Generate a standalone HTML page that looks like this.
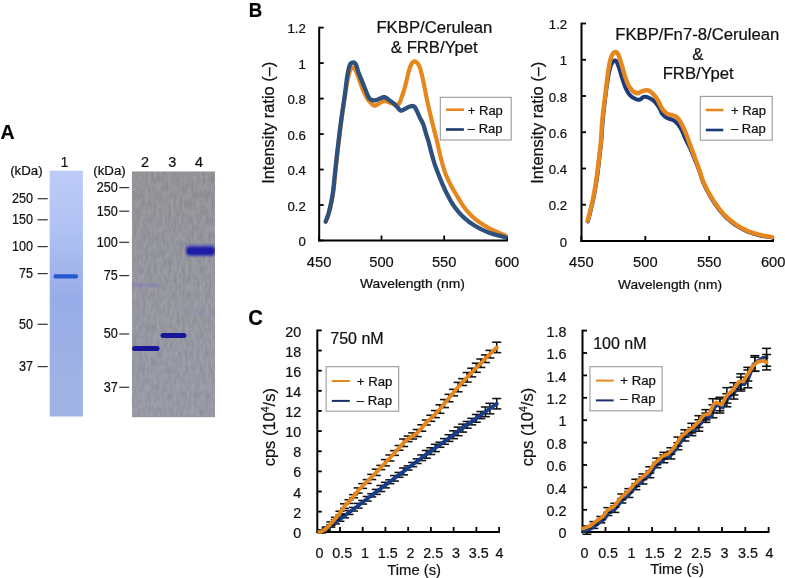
<!DOCTYPE html>
<html><head><meta charset="utf-8"><style>
html,body{margin:0;padding:0;background:#fff;}
svg{display:block;will-change:transform;font-family:"Liberation Sans", sans-serif;}
text{stroke:#111;stroke-width:0.22px;}
</style></head><body>
<svg width="785" height="578" viewBox="0 0 785 578">
<rect width="785" height="578" fill="#fff"/>
<defs>
<linearGradient id="g1" x1="0" y1="0" x2="0" y2="1"><stop offset="0" stop-color="rgb(190,203,248)"/><stop offset="0.25" stop-color="rgb(175,193,242)"/><stop offset="0.52" stop-color="rgb(152,172,232)"/><stop offset="0.86" stop-color="rgb(158,178,228)"/><stop offset="1" stop-color="rgb(160,178,228)"/></linearGradient>
<linearGradient id="g2" x1="0" y1="0" x2="0" y2="1"><stop offset="0" stop-color="rgb(148,148,153)"/><stop offset="0.5" stop-color="rgb(151,152,161)"/><stop offset="1" stop-color="rgb(152,155,167)"/></linearGradient>
<filter id="tex" x="0" y="0" width="100%" height="100%" color-interpolation-filters="sRGB"><feTurbulence type="fractalNoise" baseFrequency="0.35 0.12" numOctaves="2" seed="11" result="n"/><feColorMatrix in="n" type="matrix" values="0 0 0 0 0  0 0 0 0 0  0 0 0 0 0  0 0 0 -2.2 1.25"/></filter>
<filter id="tex2" x="0" y="0" width="100%" height="100%" color-interpolation-filters="sRGB"><feTurbulence type="fractalNoise" baseFrequency="0.35 0.12" numOctaves="2" seed="11" result="n"/><feColorMatrix in="n" type="matrix" values="0 0 0 0 1  0 0 0 0 1  0 0 0 0 1  0 0 0 2.2 -1.0"/></filter>
<filter id="bl" x="-20%" y="-100%" width="140%" height="300%"><feGaussianBlur stdDeviation="0.7"/></filter>
<filter id="bl3" x="-20%" y="-100%" width="140%" height="300%"><feGaussianBlur stdDeviation="1.0"/></filter>
<filter id="bl2" x="-20%" y="-100%" width="140%" height="300%"><feGaussianBlur stdDeviation="1.2"/></filter>
<clipPath id="cg2"><rect x="131.8" y="171.3" width="83.2" height="246.1"/></clipPath>
<clipPath id="cg1"><rect x="49.7" y="170.7" width="33.2" height="245.8"/></clipPath>
</defs>
<text transform="translate(0.4,139.3) scale(0.985,1)" font-size="19.8" font-weight="bold" fill="#000">A</text>
<rect x="49.7" y="170.7" width="33.2" height="245.8" fill="url(#g1)"/>
<rect x="53.4" y="274.2" width="24.7" height="4.3" rx="2" fill="rgb(40,88,208)" filter="url(#bl)"/>
<text transform="translate(64.50,166.90) scale(0.93,1)" font-size="14.6" text-anchor="middle" fill="#111">1</text>
<text x="10.20" y="174.50" font-size="13.3" text-anchor="start" font-weight="normal" fill="#111" >(kDa)</text>
<text transform="translate(33.10,203.10) scale(0.88,1)" font-size="14.3" text-anchor="end" fill="#111">250</text>
<line x1="37.60" y1="198.70" x2="47.70" y2="198.70" stroke="#333" stroke-width="1.2" />
<text transform="translate(33.10,224.20) scale(0.88,1)" font-size="14.3" text-anchor="end" fill="#111">150</text>
<line x1="37.60" y1="219.80" x2="47.70" y2="219.80" stroke="#333" stroke-width="1.2" />
<text transform="translate(33.10,251.00) scale(0.88,1)" font-size="14.3" text-anchor="end" fill="#111">100</text>
<line x1="37.60" y1="246.60" x2="47.70" y2="246.60" stroke="#333" stroke-width="1.2" />
<text transform="translate(33.10,278.00) scale(0.88,1)" font-size="14.3" text-anchor="end" fill="#111">75</text>
<line x1="37.60" y1="273.60" x2="47.70" y2="273.60" stroke="#333" stroke-width="1.2" />
<text transform="translate(33.10,328.70) scale(0.88,1)" font-size="14.3" text-anchor="end" fill="#111">50</text>
<line x1="37.60" y1="324.30" x2="47.70" y2="324.30" stroke="#333" stroke-width="1.2" />
<text transform="translate(33.10,371.00) scale(0.88,1)" font-size="14.3" text-anchor="end" fill="#111">37</text>
<line x1="37.60" y1="366.60" x2="47.70" y2="366.60" stroke="#333" stroke-width="1.2" />
<g clip-path="url(#cg2)">
<rect x="131.8" y="171.3" width="83.2" height="246.1" fill="url(#g2)"/>
<rect x="131.8" y="171.3" width="83.2" height="246.1" fill="#000" filter="url(#tex)" opacity="0.08"/>
<rect x="131.8" y="171.3" width="83.2" height="246.1" fill="#fff" filter="url(#tex2)" opacity="0.08"/>
<rect x="132" y="283.6" width="27" height="3.2" fill="rgb(135,130,180)" filter="url(#bl2)" opacity="0.9"/>
<rect x="190" y="312.5" width="22" height="3" fill="rgb(150,152,185)" filter="url(#bl2)" opacity="0.5"/>
<rect x="132.1" y="346.0" width="27.5" height="5.0" rx="2.5" fill="rgb(22,22,150)" filter="url(#bl)"/>
<rect x="160.5" y="333.0" width="25.9" height="5.0" rx="2.5" fill="rgb(22,22,150)" filter="url(#bl)"/>
<rect x="186.0" y="244.0" width="29.0" height="12.5" rx="4" fill="rgb(90,90,190)" filter="url(#bl2)" opacity="0.5"/>
<rect x="186.4" y="246.8" width="28.6" height="8.4" rx="3.5" fill="rgb(28,28,168)" filter="url(#bl3)"/>
</g>
<text transform="translate(145.00,166.70) scale(0.96,1)" font-size="15.0" text-anchor="middle" fill="#111">2</text>
<text transform="translate(172.30,166.70) scale(0.96,1)" font-size="15.0" text-anchor="middle" fill="#111">3</text>
<text transform="translate(199.10,166.70) scale(0.96,1)" font-size="15.0" text-anchor="middle" fill="#111">4</text>
<text x="93.30" y="174.50" font-size="13.3" text-anchor="start" font-weight="normal" fill="#111" >(kDa)</text>
<text transform="translate(117.80,192.00) scale(0.88,1)" font-size="14.3" text-anchor="end" fill="#111">250</text>
<line x1="119.30" y1="187.60" x2="129.20" y2="187.60" stroke="#333" stroke-width="1.2" />
<text transform="translate(117.80,215.60) scale(0.88,1)" font-size="14.3" text-anchor="end" fill="#111">150</text>
<line x1="119.30" y1="211.20" x2="129.20" y2="211.20" stroke="#333" stroke-width="1.2" />
<text transform="translate(117.80,246.70) scale(0.88,1)" font-size="14.3" text-anchor="end" fill="#111">100</text>
<line x1="119.30" y1="242.30" x2="129.20" y2="242.30" stroke="#333" stroke-width="1.2" />
<text transform="translate(117.80,280.00) scale(0.88,1)" font-size="14.3" text-anchor="end" fill="#111">75</text>
<line x1="119.30" y1="275.60" x2="129.20" y2="275.60" stroke="#333" stroke-width="1.2" />
<text transform="translate(117.80,338.40) scale(0.88,1)" font-size="14.3" text-anchor="end" fill="#111">50</text>
<line x1="119.30" y1="334.00" x2="129.20" y2="334.00" stroke="#333" stroke-width="1.2" />
<text transform="translate(117.80,391.70) scale(0.88,1)" font-size="14.3" text-anchor="end" fill="#111">37</text>
<line x1="119.30" y1="387.30" x2="129.20" y2="387.30" stroke="#333" stroke-width="1.2" />
<text transform="translate(248.7,16.9) scale(0.92,1)" font-size="20.3" font-weight="bold" fill="#000">B</text>
<text transform="translate(248.3,325.4) scale(0.93,1)" font-size="21.8" font-weight="bold" fill="#000">C</text>
<line x1="319.20" y1="26.80" x2="319.20" y2="241.30" stroke="#000" stroke-width="2" />
<line x1="319.20" y1="240.50" x2="323.70" y2="240.50" stroke="#000" stroke-width="1.8" />
<text x="305.80" y="246.00" font-size="13.2" text-anchor="end" font-weight="normal" fill="#111" >0</text>
<line x1="319.20" y1="205.02" x2="323.70" y2="205.02" stroke="#000" stroke-width="1.8" />
<text x="305.80" y="210.52" font-size="13.2" text-anchor="end" font-weight="normal" fill="#111" >0.2</text>
<line x1="319.20" y1="169.54" x2="323.70" y2="169.54" stroke="#000" stroke-width="1.8" />
<text x="305.80" y="175.04" font-size="13.2" text-anchor="end" font-weight="normal" fill="#111" >0.4</text>
<line x1="319.20" y1="134.06" x2="323.70" y2="134.06" stroke="#000" stroke-width="1.8" />
<text x="305.80" y="139.56" font-size="13.2" text-anchor="end" font-weight="normal" fill="#111" >0.6</text>
<line x1="319.20" y1="98.58" x2="323.70" y2="98.58" stroke="#000" stroke-width="1.8" />
<text x="305.80" y="104.08" font-size="13.2" text-anchor="end" font-weight="normal" fill="#111" >0.8</text>
<line x1="319.20" y1="63.10" x2="323.70" y2="63.10" stroke="#000" stroke-width="1.8" />
<text x="305.80" y="68.60" font-size="13.2" text-anchor="end" font-weight="normal" fill="#111" >1</text>
<line x1="319.20" y1="27.62" x2="323.70" y2="27.62" stroke="#000" stroke-width="1.8" />
<text x="305.80" y="33.12" font-size="13.2" text-anchor="end" font-weight="normal" fill="#111" >1.2</text>
<line x1="318.20" y1="240.50" x2="507.80" y2="240.50" stroke="#000" stroke-width="2" />
<line x1="319.10" y1="240.50" x2="319.10" y2="235.50" stroke="#000" stroke-width="1.8" />
<text transform="translate(319.10,266.60) scale(0.95,1)" font-size="15.5" text-anchor="middle" fill="#111">450</text>
<line x1="381.50" y1="240.50" x2="381.50" y2="235.50" stroke="#000" stroke-width="1.8" />
<text transform="translate(381.50,266.60) scale(0.95,1)" font-size="15.5" text-anchor="middle" fill="#111">500</text>
<line x1="444.20" y1="240.50" x2="444.20" y2="235.50" stroke="#000" stroke-width="1.8" />
<text transform="translate(444.20,266.60) scale(0.95,1)" font-size="15.5" text-anchor="middle" fill="#111">550</text>
<line x1="507.00" y1="240.50" x2="507.00" y2="235.50" stroke="#000" stroke-width="1.8" />
<text transform="translate(507.00,266.60) scale(0.95,1)" font-size="15.5" text-anchor="middle" fill="#111">600</text>
<text x="412.50" y="288.40" font-size="12.4" text-anchor="middle" font-weight="normal" fill="#111" textLength="105" lengthAdjust="spacingAndGlyphs">Wavelength (nm)</text>
<text transform="translate(274.0,122.8) rotate(-90)" font-size="16.4" text-anchor="middle" fill="#111">Intensity ratio (–)</text>
<text x="434.40" y="33.00" font-size="16.7" text-anchor="middle" font-weight="normal" fill="#111" >FKBP/Cerulean</text>
<text x="434.30" y="53.20" font-size="16.7" text-anchor="middle" font-weight="normal" fill="#111" >&amp; FRB/Ypet</text>
<polyline points="325.80,221.80 326.30,220.54 327.01,218.74 327.80,216.67 328.50,214.60 329.10,212.55 329.66,210.39 330.20,208.19 330.70,206.00 331.17,203.83 331.61,201.65 332.01,199.47 332.40,197.30 332.76,195.15 333.10,193.00 333.41,190.85 333.70,188.70 333.95,186.56 334.17,184.44 334.38,182.27 334.60,180.00 334.84,177.59 335.09,175.08 335.34,172.53 335.60,170.00 335.87,167.50 336.14,165.00 336.42,162.50 336.70,160.00 336.97,157.50 337.24,155.00 337.52,152.50 337.80,150.00 338.09,147.50 338.39,145.00 338.70,142.50 339.00,140.00 339.30,137.50 339.59,135.00 339.89,132.50 340.20,130.00 340.52,127.50 340.84,125.00 341.17,122.50 341.50,120.00 341.84,117.50 342.19,115.00 342.54,112.50 342.90,110.00 343.27,107.52 343.64,105.06 344.02,102.57 344.40,100.00 344.78,97.32 345.17,94.56 345.57,91.77 346.00,89.00 346.46,86.19 346.94,83.34 347.46,80.57 348.00,78.00 348.60,75.55 349.25,73.20 349.90,71.12 350.50,69.50 351.01,68.39 351.47,67.70 351.94,67.36 352.50,67.30 353.18,67.51 353.94,68.03 354.73,68.86 355.50,70.00 356.22,71.47 356.91,73.26 357.65,75.35 358.50,77.70 359.50,80.50 360.62,83.69 361.77,86.92 362.90,89.80 363.98,92.28 365.06,94.53 366.13,96.57 367.20,98.40 368.29,100.01 369.40,101.41 370.48,102.60 371.50,103.60 372.39,104.46 373.19,105.16 374.02,105.60 375.00,105.70 376.18,105.30 377.50,104.49 378.87,103.56 380.20,102.80 381.49,102.19 382.78,101.61 384.06,101.17 385.30,101.00 386.48,101.20 387.62,101.68 388.77,102.27 390.00,102.80 391.39,103.29 392.88,103.82 394.33,104.26 395.60,104.50 396.60,104.64 397.43,104.69 398.19,104.43 399.00,103.60 399.87,102.07 400.74,100.00 401.62,97.58 402.50,95.00 403.38,92.26 404.26,89.28 405.13,86.13 406.00,82.90 406.85,79.39 407.70,75.62 408.55,72.03 409.40,69.00 410.27,66.62 411.15,64.68 412.03,63.18 412.90,62.10 413.75,61.49 414.60,61.34 415.45,61.57 416.30,62.10 417.17,62.83 418.04,63.84 418.92,65.27 419.80,67.30 420.68,70.06 421.56,73.44 422.43,77.20 423.30,81.10 424.15,85.22 425.00,89.64 425.85,94.11 426.70,98.40 427.57,102.46 428.45,106.41 429.33,110.26 430.20,114.00 431.05,117.60 431.90,121.06 432.75,124.47 433.60,127.90 434.48,131.38 435.38,134.87 436.26,138.32 437.10,141.70 437.83,144.89 438.49,147.94 439.18,151.07 440.00,154.50 440.99,158.43 442.09,162.71 443.27,166.98 444.50,170.90 445.76,174.33 447.07,177.48 448.47,180.50 450.00,183.60 451.68,186.80 453.48,190.00 455.37,193.20 457.30,196.40 459.22,199.62 461.18,202.87 463.24,206.05 465.50,209.10 467.95,211.99 470.56,214.78 473.36,217.44 476.40,220.00 479.77,222.46 483.42,224.83 487.18,227.06 490.90,229.10 494.89,231.04 499.11,232.87 502.87,234.41 505.50,235.50" fill="none" stroke="#e6871e" stroke-width="4.2" stroke-linejoin="round" stroke-linecap="round" />
<polyline points="325.60,221.50 326.08,220.30 326.76,218.59 327.52,216.61 328.20,214.60 328.79,212.57 329.36,210.41 329.89,208.20 330.40,206.00 330.87,203.83 331.31,201.65 331.71,199.47 332.10,197.30 332.46,195.15 332.80,193.00 333.11,190.85 333.40,188.70 333.65,186.56 333.87,184.44 334.08,182.27 334.30,180.00 334.54,177.59 334.79,175.08 335.04,172.53 335.30,170.00 335.57,167.50 335.84,165.00 336.12,162.50 336.40,160.00 336.67,157.50 336.94,155.00 337.22,152.50 337.50,150.00 337.79,147.50 338.09,145.00 338.40,142.50 338.70,140.00 339.00,137.50 339.29,135.00 339.59,132.50 339.90,130.00 340.22,127.50 340.54,125.00 340.87,122.50 341.20,120.00 341.54,117.50 341.89,115.00 342.24,112.50 342.60,110.00 342.97,107.52 343.34,105.06 343.72,102.57 344.10,100.00 344.47,97.37 344.84,94.69 345.21,91.91 345.60,89.00 345.99,85.85 346.38,82.52 346.81,79.18 347.30,76.00 347.87,72.84 348.49,69.68 349.17,66.85 349.90,64.70 350.73,63.41 351.65,62.76 352.57,62.53 353.40,62.50 354.12,62.61 354.76,62.98 355.38,63.65 356.00,64.70 356.61,66.24 357.19,68.20 357.81,70.36 358.50,72.50 359.30,74.59 360.19,76.74 361.10,78.92 362.00,81.10 362.88,83.29 363.76,85.50 364.63,87.69 365.50,89.80 366.35,91.94 367.20,94.08 368.05,96.04 368.90,97.60 369.77,98.68 370.65,99.39 371.53,99.85 372.40,100.20 373.23,100.42 374.04,100.48 374.88,100.39 375.80,100.20 376.83,99.86 377.94,99.38 379.08,98.86 380.20,98.40 381.28,97.95 382.36,97.47 383.43,97.13 384.50,97.10 385.56,97.47 386.61,98.13 387.68,98.95 388.80,99.80 390.04,100.68 391.35,101.65 392.64,102.65 393.80,103.60 394.78,104.50 395.64,105.37 396.46,106.23 397.30,107.10 398.16,108.10 399.00,109.18 399.87,110.10 400.80,110.60 401.82,110.53 402.90,110.05 404.01,109.40 405.10,108.80 406.18,108.26 407.25,107.67 408.32,107.12 409.40,106.70 410.51,106.37 411.66,106.10 412.74,106.01 413.70,106.20 414.45,106.69 415.05,107.43 415.63,108.43 416.30,109.70 417.11,111.37 417.99,113.39 418.90,115.51 419.80,117.50 420.70,119.25 421.61,120.90 422.50,122.58 423.30,124.40 423.99,126.43 424.60,128.60 425.18,130.82 425.80,133.00 426.47,135.11 427.16,137.20 427.84,139.31 428.50,141.50 429.09,143.71 429.64,145.94 430.22,148.30 430.90,150.90 431.67,153.80 432.51,156.93 433.44,160.21 434.50,163.60 435.72,167.12 437.07,170.79 438.52,174.51 440.00,178.20 441.52,181.87 443.09,185.56 444.72,189.20 446.40,192.70 448.10,196.06 449.83,199.32 451.65,202.47 453.60,205.50 455.68,208.40 457.86,211.18 460.19,213.85 462.70,216.40 465.39,218.85 468.26,221.18 471.29,223.40 474.50,225.50 477.91,227.49 481.51,229.38 485.26,231.13 489.10,232.70 493.46,234.14 498.21,235.45 502.51,236.53 505.50,237.30" fill="none" stroke="#2d507d" stroke-width="4.3" stroke-linejoin="round" stroke-linecap="round" />
<rect x="440.3" y="97.3" width="70.89999999999998" height="42.7" fill="#fff" stroke="#9a9a9a" stroke-width="1.1"/>
<line x1="446.00" y1="109.70" x2="463.90" y2="109.70" stroke="#e6871e" stroke-width="2.6" />
<line x1="446.00" y1="129.50" x2="463.90" y2="129.50" stroke="#1c3a6e" stroke-width="2.6" />
<text x="467.80" y="115.10" font-size="13" text-anchor="start" font-weight="normal" fill="#111" >+ Rap</text>
<text x="467.80" y="133.30" font-size="13" text-anchor="start" font-weight="normal" fill="#111" >– Rap</text>
<line x1="581.50" y1="22.70" x2="581.50" y2="241.80" stroke="#000" stroke-width="2" />
<line x1="581.50" y1="241.00" x2="586.00" y2="241.00" stroke="#000" stroke-width="1.8" />
<text x="567.20" y="246.50" font-size="13.2" text-anchor="end" font-weight="normal" fill="#111" >0</text>
<line x1="581.50" y1="204.75" x2="586.00" y2="204.75" stroke="#000" stroke-width="1.8" />
<text x="567.20" y="210.25" font-size="13.2" text-anchor="end" font-weight="normal" fill="#111" >0.2</text>
<line x1="581.50" y1="168.50" x2="586.00" y2="168.50" stroke="#000" stroke-width="1.8" />
<text x="567.20" y="174.00" font-size="13.2" text-anchor="end" font-weight="normal" fill="#111" >0.4</text>
<line x1="581.50" y1="132.25" x2="586.00" y2="132.25" stroke="#000" stroke-width="1.8" />
<text x="567.20" y="137.75" font-size="13.2" text-anchor="end" font-weight="normal" fill="#111" >0.6</text>
<line x1="581.50" y1="96.00" x2="586.00" y2="96.00" stroke="#000" stroke-width="1.8" />
<text x="567.20" y="101.50" font-size="13.2" text-anchor="end" font-weight="normal" fill="#111" >0.8</text>
<line x1="581.50" y1="59.75" x2="586.00" y2="59.75" stroke="#000" stroke-width="1.8" />
<text x="567.20" y="65.25" font-size="13.2" text-anchor="end" font-weight="normal" fill="#111" >1</text>
<line x1="581.50" y1="23.50" x2="586.00" y2="23.50" stroke="#000" stroke-width="1.8" />
<text x="567.20" y="29.00" font-size="13.2" text-anchor="end" font-weight="normal" fill="#111" >1.2</text>
<line x1="580.50" y1="241.00" x2="774.00" y2="241.00" stroke="#000" stroke-width="2" />
<line x1="581.30" y1="241.00" x2="581.30" y2="236.00" stroke="#000" stroke-width="1.8" />
<text transform="translate(581.30,266.70) scale(0.95,1)" font-size="15.5" text-anchor="middle" fill="#111">450</text>
<line x1="645.30" y1="241.00" x2="645.30" y2="236.00" stroke="#000" stroke-width="1.8" />
<text transform="translate(645.30,266.70) scale(0.95,1)" font-size="15.5" text-anchor="middle" fill="#111">500</text>
<line x1="709.20" y1="241.00" x2="709.20" y2="236.00" stroke="#000" stroke-width="1.8" />
<text transform="translate(709.20,266.70) scale(0.95,1)" font-size="15.5" text-anchor="middle" fill="#111">550</text>
<line x1="773.20" y1="241.00" x2="773.20" y2="236.00" stroke="#000" stroke-width="1.8" />
<text transform="translate(773.20,266.70) scale(0.95,1)" font-size="15.5" text-anchor="middle" fill="#111">600</text>
<text x="670.00" y="288.60" font-size="12.4" text-anchor="middle" font-weight="normal" fill="#111" textLength="104" lengthAdjust="spacingAndGlyphs">Wavelength (nm)</text>
<text transform="translate(543.3,122.8) rotate(-90)" font-size="16.4" text-anchor="middle" fill="#111">Intensity ratio (–)</text>
<text x="697.30" y="39.80" font-size="16.7" text-anchor="middle" font-weight="normal" fill="#111" >FKBP/Fn7-8/Cerulean</text>
<text x="697.70" y="60.20" font-size="16.7" text-anchor="middle" font-weight="normal" fill="#111" >&amp;</text>
<text x="698.20" y="79.40" font-size="16.7" text-anchor="middle" font-weight="normal" fill="#111" >FRB/Ypet</text>
<polyline points="587.80,221.50 588.27,219.79 588.93,217.37 589.71,214.47 590.50,211.30 591.32,207.90 592.21,204.16 593.11,200.09 594.00,195.70 594.88,190.93 595.76,185.78 596.61,180.42 597.40,175.00 598.13,169.27 598.83,163.24 599.45,157.46 600.00,152.50 600.43,148.90 600.76,146.22 601.06,143.57 601.40,140.00 601.75,135.24 602.10,129.79 602.50,123.92 603.00,117.90 603.66,111.48 604.42,104.64 605.23,97.92 606.00,91.90 606.72,86.67 607.42,81.95 608.11,77.73 608.80,74.00 609.45,70.79 610.07,68.11 610.74,65.86 611.50,64.00 612.42,62.39 613.46,61.12 614.51,60.38 615.50,60.40 616.39,61.37 617.23,63.12 618.06,65.35 618.90,67.70 619.77,70.27 620.65,73.16 621.53,76.13 622.40,78.90 623.23,81.45 624.04,83.91 624.88,86.24 625.80,88.40 626.81,90.41 627.89,92.28 629.02,93.96 630.20,95.40 631.46,96.56 632.81,97.48 634.14,98.21 635.40,98.80 636.54,99.29 637.61,99.65 638.65,99.81 639.70,99.70 640.75,99.12 641.79,98.18 642.86,97.24 644.00,96.70 645.24,96.67 646.54,96.95 647.88,97.43 649.20,98.00 650.50,98.62 651.80,99.35 653.10,100.25 654.40,101.40 655.76,102.91 657.17,104.73 658.49,106.60 659.60,108.30 660.35,109.78 660.85,111.16 661.35,112.46 662.10,113.70 663.17,114.91 664.42,116.08 665.82,117.15 667.30,118.10 668.92,118.78 670.69,119.24 672.49,119.79 674.20,120.70 675.78,121.98 677.31,123.50 678.80,125.35 680.30,127.60 681.86,130.55 683.45,134.07 684.96,137.60 686.30,140.60 687.36,142.74 688.21,144.36 689.04,145.96 690.00,148.00 691.18,150.72 692.48,153.84 693.79,157.03 695.00,160.00 696.07,162.59 697.06,165.00 698.02,167.41 699.00,170.00 699.94,172.83 700.83,175.79 701.81,178.85 703.00,182.00 704.47,185.30 706.14,188.73 707.91,192.15 709.70,195.40 711.48,198.45 713.31,201.39 715.18,204.20 717.10,206.90 719.05,209.46 721.04,211.90 723.11,214.24 725.30,216.50 727.62,218.71 730.04,220.85 732.57,222.89 735.20,224.80 737.94,226.59 740.80,228.27 743.73,229.81 746.70,231.20 749.70,232.41 752.74,233.46 755.84,234.38 759.00,235.20 762.55,235.95 766.37,236.60 769.81,237.13 772.20,237.50" fill="none" stroke="#1c3a78" stroke-width="4.0" stroke-linejoin="round" stroke-linecap="round" />
<polyline points="587.50,220.80 587.95,219.24 588.58,217.03 589.33,214.33 590.10,211.30 590.91,207.95 591.80,204.20 592.71,200.10 593.60,195.70 594.48,190.93 595.36,185.78 596.21,180.42 597.00,175.00 597.73,169.27 598.43,163.24 599.05,157.46 599.60,152.50 600.03,148.90 600.37,146.22 600.67,143.57 601.00,140.00 601.33,135.24 601.64,129.79 602.01,123.92 602.50,117.90 603.17,111.59 603.96,104.93 604.80,98.25 605.60,91.90 606.35,85.79 607.08,79.78 607.80,74.21 608.50,69.40 609.15,65.48 609.76,62.27 610.39,59.60 611.10,57.30 611.91,55.34 612.79,53.81 613.70,52.72 614.60,52.10 615.48,51.93 616.36,52.20 617.23,52.95 618.10,54.20 618.95,56.10 619.80,58.58 620.65,61.37 621.50,64.20 622.37,67.16 623.25,70.33 624.13,73.46 625.00,76.30 625.83,78.78 626.64,81.03 627.48,83.09 628.40,85.00 629.43,86.78 630.54,88.40 631.68,89.82 632.80,91.00 633.88,91.93 634.96,92.63 636.03,93.09 637.10,93.30 638.15,93.15 639.19,92.68 640.26,92.10 641.40,91.60 642.66,91.15 644.00,90.68 645.34,90.32 646.60,90.20 647.71,90.33 648.73,90.64 649.75,91.18 650.90,92.00 652.21,93.10 653.62,94.46 655.07,96.09 656.50,98.00 657.91,100.43 659.32,103.30 660.73,106.14 662.10,108.50 663.41,110.25 664.67,111.64 665.95,112.76 667.30,113.70 668.79,114.35 670.36,114.71 671.92,115.02 673.40,115.50 674.72,116.05 675.95,116.61 677.18,117.46 678.50,118.90 679.98,121.11 681.54,123.90 683.11,127.01 684.60,130.20 685.96,133.47 687.26,136.94 688.52,140.48 689.80,144.00 691.13,147.53 692.47,151.12 693.78,154.62 695.00,157.90 696.08,160.85 697.07,163.56 698.02,166.21 699.00,169.00 699.96,171.95 700.89,174.97 701.90,178.05 703.10,181.20 704.56,184.47 706.19,187.84 707.94,191.20 709.70,194.40 711.48,197.43 713.30,200.36 715.18,203.18 717.10,205.90 719.05,208.50 721.04,211.00 723.11,213.40 725.30,215.70 727.62,217.92 730.04,220.06 732.57,222.09 735.20,224.00 737.94,225.81 740.80,227.51 743.73,229.09 746.70,230.50 749.70,231.73 752.74,232.80 755.84,233.74 759.00,234.60 762.55,235.40 766.37,236.11 769.81,236.69 772.20,237.10" fill="none" stroke="#e6871e" stroke-width="4.4" stroke-linejoin="round" stroke-linecap="round" />
<rect x="700.3" y="96.4" width="71.90000000000009" height="43.79999999999998" fill="#fff" stroke="#9a9a9a" stroke-width="1.1"/>
<line x1="705.80" y1="110.00" x2="723.30" y2="110.00" stroke="#e6871e" stroke-width="2.6" />
<line x1="705.80" y1="130.00" x2="723.30" y2="130.00" stroke="#1c3a78" stroke-width="2.6" />
<text x="731.00" y="114.50" font-size="13" text-anchor="start" font-weight="normal" fill="#111" >+ Rap</text>
<text x="731.00" y="133.30" font-size="13" text-anchor="start" font-weight="normal" fill="#111" >– Rap</text>
<line x1="317.30" y1="329.60" x2="317.30" y2="532.60" stroke="#000" stroke-width="2" />
<line x1="317.30" y1="531.80" x2="321.80" y2="531.80" stroke="#000" stroke-width="1.8" />
<text transform="translate(301.30,537.90) scale(0.97,1)" font-size="14.8" text-anchor="end" fill="#111">0</text>
<line x1="317.30" y1="511.66" x2="321.80" y2="511.66" stroke="#000" stroke-width="1.8" />
<text transform="translate(301.30,517.76) scale(0.97,1)" font-size="14.8" text-anchor="end" fill="#111">2</text>
<line x1="317.30" y1="491.52" x2="321.80" y2="491.52" stroke="#000" stroke-width="1.8" />
<text transform="translate(301.30,497.62) scale(0.97,1)" font-size="14.8" text-anchor="end" fill="#111">4</text>
<line x1="317.30" y1="471.38" x2="321.80" y2="471.38" stroke="#000" stroke-width="1.8" />
<text transform="translate(301.30,477.48) scale(0.97,1)" font-size="14.8" text-anchor="end" fill="#111">6</text>
<line x1="317.30" y1="451.24" x2="321.80" y2="451.24" stroke="#000" stroke-width="1.8" />
<text transform="translate(301.30,457.34) scale(0.97,1)" font-size="14.8" text-anchor="end" fill="#111">8</text>
<line x1="317.30" y1="431.10" x2="321.80" y2="431.10" stroke="#000" stroke-width="1.8" />
<text transform="translate(301.30,437.20) scale(0.97,1)" font-size="14.8" text-anchor="end" fill="#111">10</text>
<line x1="317.30" y1="410.96" x2="321.80" y2="410.96" stroke="#000" stroke-width="1.8" />
<text transform="translate(301.30,417.06) scale(0.97,1)" font-size="14.8" text-anchor="end" fill="#111">12</text>
<line x1="317.30" y1="390.82" x2="321.80" y2="390.82" stroke="#000" stroke-width="1.8" />
<text transform="translate(301.30,396.92) scale(0.97,1)" font-size="14.8" text-anchor="end" fill="#111">14</text>
<line x1="317.30" y1="370.68" x2="321.80" y2="370.68" stroke="#000" stroke-width="1.8" />
<text transform="translate(301.30,376.78) scale(0.97,1)" font-size="14.8" text-anchor="end" fill="#111">16</text>
<line x1="317.30" y1="350.54" x2="321.80" y2="350.54" stroke="#000" stroke-width="1.8" />
<text transform="translate(301.30,356.64) scale(0.97,1)" font-size="14.8" text-anchor="end" fill="#111">18</text>
<line x1="317.30" y1="330.40" x2="321.80" y2="330.40" stroke="#000" stroke-width="1.8" />
<text transform="translate(301.30,336.50) scale(0.97,1)" font-size="14.8" text-anchor="end" fill="#111">20</text>
<line x1="316.30" y1="531.90" x2="499.90" y2="531.90" stroke="#000" stroke-width="2" />
<line x1="339.94" y1="531.90" x2="339.94" y2="526.90" stroke="#000" stroke-width="1.8" />
<text transform="translate(342.24,557.90) scale(0.97,1)" font-size="14.8" text-anchor="middle" fill="#111">0.5</text>
<line x1="362.68" y1="531.90" x2="362.68" y2="526.90" stroke="#000" stroke-width="1.8" />
<text transform="translate(364.98,557.90) scale(0.97,1)" font-size="14.8" text-anchor="middle" fill="#111">1</text>
<line x1="385.42" y1="531.90" x2="385.42" y2="526.90" stroke="#000" stroke-width="1.8" />
<text transform="translate(387.72,557.90) scale(0.97,1)" font-size="14.8" text-anchor="middle" fill="#111">1.5</text>
<line x1="408.16" y1="531.90" x2="408.16" y2="526.90" stroke="#000" stroke-width="1.8" />
<text transform="translate(410.46,557.90) scale(0.97,1)" font-size="14.8" text-anchor="middle" fill="#111">2</text>
<line x1="430.90" y1="531.90" x2="430.90" y2="526.90" stroke="#000" stroke-width="1.8" />
<text transform="translate(433.20,557.90) scale(0.97,1)" font-size="14.8" text-anchor="middle" fill="#111">2.5</text>
<line x1="453.64" y1="531.90" x2="453.64" y2="526.90" stroke="#000" stroke-width="1.8" />
<text transform="translate(455.94,557.90) scale(0.97,1)" font-size="14.8" text-anchor="middle" fill="#111">3</text>
<line x1="476.38" y1="531.90" x2="476.38" y2="526.90" stroke="#000" stroke-width="1.8" />
<text transform="translate(478.68,557.90) scale(0.97,1)" font-size="14.8" text-anchor="middle" fill="#111">3.5</text>
<line x1="499.12" y1="531.90" x2="499.12" y2="526.90" stroke="#000" stroke-width="1.8" />
<text transform="translate(499.52,557.90) scale(0.97,1)" font-size="14.8" text-anchor="middle" fill="#111">4</text>
<text transform="translate(319.50,557.90) scale(0.97,1)" font-size="14.8" text-anchor="middle" fill="#111">0</text>
<text x="414.20" y="574.50" font-size="14.8" text-anchor="middle" font-weight="normal" fill="#111" >Time (s)</text>
<text transform="translate(274.7,427.2) rotate(-90)" font-size="16.5" text-anchor="middle" fill="#111">cps (10<tspan font-size="10.5" dy="-6">4</tspan><tspan dy="6">/s)</tspan></text>
<text x="330.30" y="343.90" font-size="16" text-anchor="start" font-weight="normal" fill="#111" >750 nM</text>
<line x1="326.29" y1="528.30" x2="326.29" y2="530.78" stroke="#111" stroke-width="1.55" />
<line x1="321.79" y1="528.30" x2="330.79" y2="528.30" stroke="#111" stroke-width="1.55" />
<line x1="321.79" y1="530.78" x2="330.79" y2="530.78" stroke="#111" stroke-width="1.55" />
<line x1="330.83" y1="524.97" x2="330.83" y2="527.13" stroke="#111" stroke-width="1.55" />
<line x1="326.33" y1="524.97" x2="335.33" y2="524.97" stroke="#111" stroke-width="1.55" />
<line x1="326.33" y1="527.13" x2="335.33" y2="527.13" stroke="#111" stroke-width="1.55" />
<line x1="335.38" y1="521.26" x2="335.38" y2="523.87" stroke="#111" stroke-width="1.55" />
<line x1="330.88" y1="521.26" x2="339.88" y2="521.26" stroke="#111" stroke-width="1.55" />
<line x1="330.88" y1="523.87" x2="339.88" y2="523.87" stroke="#111" stroke-width="1.55" />
<line x1="339.93" y1="517.11" x2="339.93" y2="521.23" stroke="#111" stroke-width="1.55" />
<line x1="335.43" y1="517.11" x2="344.43" y2="517.11" stroke="#111" stroke-width="1.55" />
<line x1="335.43" y1="521.23" x2="344.43" y2="521.23" stroke="#111" stroke-width="1.55" />
<line x1="344.47" y1="513.92" x2="344.47" y2="517.82" stroke="#111" stroke-width="1.55" />
<line x1="339.97" y1="513.92" x2="348.97" y2="513.92" stroke="#111" stroke-width="1.55" />
<line x1="339.97" y1="517.82" x2="348.97" y2="517.82" stroke="#111" stroke-width="1.55" />
<line x1="349.01" y1="510.66" x2="349.01" y2="514.46" stroke="#111" stroke-width="1.55" />
<line x1="344.51" y1="510.66" x2="353.51" y2="510.66" stroke="#111" stroke-width="1.55" />
<line x1="344.51" y1="514.46" x2="353.51" y2="514.46" stroke="#111" stroke-width="1.55" />
<line x1="353.56" y1="507.42" x2="353.56" y2="511.00" stroke="#111" stroke-width="1.55" />
<line x1="349.06" y1="507.42" x2="358.06" y2="507.42" stroke="#111" stroke-width="1.55" />
<line x1="349.06" y1="511.00" x2="358.06" y2="511.00" stroke="#111" stroke-width="1.55" />
<line x1="358.11" y1="503.40" x2="358.11" y2="508.07" stroke="#111" stroke-width="1.55" />
<line x1="353.61" y1="503.40" x2="362.61" y2="503.40" stroke="#111" stroke-width="1.55" />
<line x1="353.61" y1="508.07" x2="362.61" y2="508.07" stroke="#111" stroke-width="1.55" />
<line x1="362.65" y1="500.48" x2="362.65" y2="504.04" stroke="#111" stroke-width="1.55" />
<line x1="358.15" y1="500.48" x2="367.15" y2="500.48" stroke="#111" stroke-width="1.55" />
<line x1="358.15" y1="504.04" x2="367.15" y2="504.04" stroke="#111" stroke-width="1.55" />
<line x1="367.19" y1="496.49" x2="367.19" y2="501.09" stroke="#111" stroke-width="1.55" />
<line x1="362.69" y1="496.49" x2="371.69" y2="496.49" stroke="#111" stroke-width="1.55" />
<line x1="362.69" y1="501.09" x2="371.69" y2="501.09" stroke="#111" stroke-width="1.55" />
<line x1="371.74" y1="493.72" x2="371.74" y2="496.92" stroke="#111" stroke-width="1.55" />
<line x1="367.24" y1="493.72" x2="376.24" y2="493.72" stroke="#111" stroke-width="1.55" />
<line x1="367.24" y1="496.92" x2="376.24" y2="496.92" stroke="#111" stroke-width="1.55" />
<line x1="376.29" y1="489.39" x2="376.29" y2="494.37" stroke="#111" stroke-width="1.55" />
<line x1="371.79" y1="489.39" x2="380.79" y2="489.39" stroke="#111" stroke-width="1.55" />
<line x1="371.79" y1="494.37" x2="380.79" y2="494.37" stroke="#111" stroke-width="1.55" />
<line x1="380.83" y1="485.48" x2="380.83" y2="491.51" stroke="#111" stroke-width="1.55" />
<line x1="376.33" y1="485.48" x2="385.33" y2="485.48" stroke="#111" stroke-width="1.55" />
<line x1="376.33" y1="491.51" x2="385.33" y2="491.51" stroke="#111" stroke-width="1.55" />
<line x1="385.38" y1="482.36" x2="385.38" y2="487.86" stroke="#111" stroke-width="1.55" />
<line x1="380.88" y1="482.36" x2="389.88" y2="482.36" stroke="#111" stroke-width="1.55" />
<line x1="380.88" y1="487.86" x2="389.88" y2="487.86" stroke="#111" stroke-width="1.55" />
<line x1="389.92" y1="479.81" x2="389.92" y2="483.65" stroke="#111" stroke-width="1.55" />
<line x1="385.42" y1="479.81" x2="394.42" y2="479.81" stroke="#111" stroke-width="1.55" />
<line x1="385.42" y1="483.65" x2="394.42" y2="483.65" stroke="#111" stroke-width="1.55" />
<line x1="394.47" y1="475.56" x2="394.47" y2="481.06" stroke="#111" stroke-width="1.55" />
<line x1="389.97" y1="475.56" x2="398.97" y2="475.56" stroke="#111" stroke-width="1.55" />
<line x1="389.97" y1="481.06" x2="398.97" y2="481.06" stroke="#111" stroke-width="1.55" />
<line x1="399.01" y1="472.45" x2="399.01" y2="477.28" stroke="#111" stroke-width="1.55" />
<line x1="394.51" y1="472.45" x2="403.51" y2="472.45" stroke="#111" stroke-width="1.55" />
<line x1="394.51" y1="477.28" x2="403.51" y2="477.28" stroke="#111" stroke-width="1.55" />
<line x1="403.56" y1="467.98" x2="403.56" y2="474.86" stroke="#111" stroke-width="1.55" />
<line x1="399.06" y1="467.98" x2="408.06" y2="467.98" stroke="#111" stroke-width="1.55" />
<line x1="399.06" y1="474.86" x2="408.06" y2="474.86" stroke="#111" stroke-width="1.55" />
<line x1="408.10" y1="465.91" x2="408.10" y2="470.05" stroke="#111" stroke-width="1.55" />
<line x1="403.60" y1="465.91" x2="412.60" y2="465.91" stroke="#111" stroke-width="1.55" />
<line x1="403.60" y1="470.05" x2="412.60" y2="470.05" stroke="#111" stroke-width="1.55" />
<line x1="412.65" y1="462.44" x2="412.65" y2="466.67" stroke="#111" stroke-width="1.55" />
<line x1="408.15" y1="462.44" x2="417.15" y2="462.44" stroke="#111" stroke-width="1.55" />
<line x1="408.15" y1="466.67" x2="417.15" y2="466.67" stroke="#111" stroke-width="1.55" />
<line x1="417.19" y1="458.83" x2="417.19" y2="463.47" stroke="#111" stroke-width="1.55" />
<line x1="412.69" y1="458.83" x2="421.69" y2="458.83" stroke="#111" stroke-width="1.55" />
<line x1="412.69" y1="463.47" x2="421.69" y2="463.47" stroke="#111" stroke-width="1.55" />
<line x1="421.74" y1="454.93" x2="421.74" y2="460.55" stroke="#111" stroke-width="1.55" />
<line x1="417.24" y1="454.93" x2="426.24" y2="454.93" stroke="#111" stroke-width="1.55" />
<line x1="417.24" y1="460.55" x2="426.24" y2="460.55" stroke="#111" stroke-width="1.55" />
<line x1="426.28" y1="450.46" x2="426.28" y2="458.20" stroke="#111" stroke-width="1.55" />
<line x1="421.78" y1="450.46" x2="430.78" y2="450.46" stroke="#111" stroke-width="1.55" />
<line x1="421.78" y1="458.20" x2="430.78" y2="458.20" stroke="#111" stroke-width="1.55" />
<line x1="430.83" y1="447.76" x2="430.83" y2="454.51" stroke="#111" stroke-width="1.55" />
<line x1="426.33" y1="447.76" x2="435.33" y2="447.76" stroke="#111" stroke-width="1.55" />
<line x1="426.33" y1="454.51" x2="435.33" y2="454.51" stroke="#111" stroke-width="1.55" />
<line x1="435.37" y1="444.30" x2="435.37" y2="451.59" stroke="#111" stroke-width="1.55" />
<line x1="430.87" y1="444.30" x2="439.87" y2="444.30" stroke="#111" stroke-width="1.55" />
<line x1="430.87" y1="451.59" x2="439.87" y2="451.59" stroke="#111" stroke-width="1.55" />
<line x1="439.92" y1="442.23" x2="439.92" y2="447.28" stroke="#111" stroke-width="1.55" />
<line x1="435.42" y1="442.23" x2="444.42" y2="442.23" stroke="#111" stroke-width="1.55" />
<line x1="435.42" y1="447.28" x2="444.42" y2="447.28" stroke="#111" stroke-width="1.55" />
<line x1="444.46" y1="438.58" x2="444.46" y2="444.26" stroke="#111" stroke-width="1.55" />
<line x1="439.96" y1="438.58" x2="448.96" y2="438.58" stroke="#111" stroke-width="1.55" />
<line x1="439.96" y1="444.26" x2="448.96" y2="444.26" stroke="#111" stroke-width="1.55" />
<line x1="449.01" y1="434.75" x2="449.01" y2="441.41" stroke="#111" stroke-width="1.55" />
<line x1="444.51" y1="434.75" x2="453.51" y2="434.75" stroke="#111" stroke-width="1.55" />
<line x1="444.51" y1="441.41" x2="453.51" y2="441.41" stroke="#111" stroke-width="1.55" />
<line x1="453.55" y1="430.82" x2="453.55" y2="438.66" stroke="#111" stroke-width="1.55" />
<line x1="449.05" y1="430.82" x2="458.05" y2="430.82" stroke="#111" stroke-width="1.55" />
<line x1="449.05" y1="438.66" x2="458.05" y2="438.66" stroke="#111" stroke-width="1.55" />
<line x1="458.10" y1="427.13" x2="458.10" y2="435.66" stroke="#111" stroke-width="1.55" />
<line x1="453.60" y1="427.13" x2="462.60" y2="427.13" stroke="#111" stroke-width="1.55" />
<line x1="453.60" y1="435.66" x2="462.60" y2="435.66" stroke="#111" stroke-width="1.55" />
<line x1="462.64" y1="424.14" x2="462.64" y2="432.09" stroke="#111" stroke-width="1.55" />
<line x1="458.14" y1="424.14" x2="467.14" y2="424.14" stroke="#111" stroke-width="1.55" />
<line x1="458.14" y1="432.09" x2="467.14" y2="432.09" stroke="#111" stroke-width="1.55" />
<line x1="467.19" y1="421.45" x2="467.19" y2="428.25" stroke="#111" stroke-width="1.55" />
<line x1="462.69" y1="421.45" x2="471.69" y2="421.45" stroke="#111" stroke-width="1.55" />
<line x1="462.69" y1="428.25" x2="471.69" y2="428.25" stroke="#111" stroke-width="1.55" />
<line x1="471.73" y1="418.35" x2="471.73" y2="424.84" stroke="#111" stroke-width="1.55" />
<line x1="467.23" y1="418.35" x2="476.23" y2="418.35" stroke="#111" stroke-width="1.55" />
<line x1="467.23" y1="424.84" x2="476.23" y2="424.84" stroke="#111" stroke-width="1.55" />
<line x1="476.28" y1="414.47" x2="476.28" y2="422.21" stroke="#111" stroke-width="1.55" />
<line x1="471.78" y1="414.47" x2="480.78" y2="414.47" stroke="#111" stroke-width="1.55" />
<line x1="471.78" y1="422.21" x2="480.78" y2="422.21" stroke="#111" stroke-width="1.55" />
<line x1="480.82" y1="411.52" x2="480.82" y2="418.63" stroke="#111" stroke-width="1.55" />
<line x1="476.32" y1="411.52" x2="485.32" y2="411.52" stroke="#111" stroke-width="1.55" />
<line x1="476.32" y1="418.63" x2="485.32" y2="418.63" stroke="#111" stroke-width="1.55" />
<line x1="485.37" y1="406.99" x2="485.37" y2="416.66" stroke="#111" stroke-width="1.55" />
<line x1="480.87" y1="406.99" x2="489.87" y2="406.99" stroke="#111" stroke-width="1.55" />
<line x1="480.87" y1="416.66" x2="489.87" y2="416.66" stroke="#111" stroke-width="1.55" />
<line x1="489.91" y1="403.31" x2="489.91" y2="413.82" stroke="#111" stroke-width="1.55" />
<line x1="485.41" y1="403.31" x2="494.41" y2="403.31" stroke="#111" stroke-width="1.55" />
<line x1="485.41" y1="413.82" x2="494.41" y2="413.82" stroke="#111" stroke-width="1.55" />
<line x1="496.73" y1="398.53" x2="496.73" y2="408.89" stroke="#111" stroke-width="1.55" />
<line x1="492.23" y1="398.53" x2="501.23" y2="398.53" stroke="#111" stroke-width="1.55" />
<line x1="492.23" y1="408.89" x2="501.23" y2="408.89" stroke="#111" stroke-width="1.55" />
<polyline points="322.65,531.90 326.29,529.54 330.83,526.05 335.38,522.57 339.93,519.17 344.47,515.87 349.01,512.56 353.56,509.21 358.11,505.74 362.65,502.26 367.19,498.79 371.74,495.32 376.29,491.88 380.83,488.50 385.38,485.11 389.92,481.73 394.47,478.31 399.01,474.87 403.56,471.42 408.10,467.98 412.65,464.56 417.19,461.15 421.74,457.74 426.28,454.33 430.83,451.13 435.37,447.94 439.92,444.76 444.46,441.42 449.01,438.08 453.55,434.74 458.10,431.40 462.64,428.11 467.19,424.85 471.73,421.59 476.28,418.34 480.82,415.08 485.37,411.82 489.91,408.56 496.73,403.71" fill="none" stroke="#173c88" stroke-width="3.8" stroke-linejoin="round" stroke-linecap="round" />
<line x1="321.75" y1="529.73" x2="321.75" y2="532.86" stroke="#111" stroke-width="1.55" />
<line x1="317.25" y1="529.73" x2="326.25" y2="529.73" stroke="#111" stroke-width="1.55" />
<line x1="317.25" y1="532.86" x2="326.25" y2="532.86" stroke="#111" stroke-width="1.55" />
<line x1="326.29" y1="527.00" x2="326.29" y2="530.06" stroke="#111" stroke-width="1.55" />
<line x1="321.79" y1="527.00" x2="330.79" y2="527.00" stroke="#111" stroke-width="1.55" />
<line x1="321.79" y1="530.06" x2="330.79" y2="530.06" stroke="#111" stroke-width="1.55" />
<line x1="330.83" y1="521.91" x2="330.83" y2="525.34" stroke="#111" stroke-width="1.55" />
<line x1="326.33" y1="521.91" x2="335.33" y2="521.91" stroke="#111" stroke-width="1.55" />
<line x1="326.33" y1="525.34" x2="335.33" y2="525.34" stroke="#111" stroke-width="1.55" />
<line x1="335.38" y1="517.37" x2="335.38" y2="519.85" stroke="#111" stroke-width="1.55" />
<line x1="330.88" y1="517.37" x2="339.88" y2="517.37" stroke="#111" stroke-width="1.55" />
<line x1="330.88" y1="519.85" x2="339.88" y2="519.85" stroke="#111" stroke-width="1.55" />
<line x1="339.93" y1="511.23" x2="339.93" y2="514.91" stroke="#111" stroke-width="1.55" />
<line x1="335.43" y1="511.23" x2="344.43" y2="511.23" stroke="#111" stroke-width="1.55" />
<line x1="335.43" y1="514.91" x2="344.43" y2="514.91" stroke="#111" stroke-width="1.55" />
<line x1="344.47" y1="503.82" x2="344.47" y2="508.42" stroke="#111" stroke-width="1.55" />
<line x1="339.97" y1="503.82" x2="348.97" y2="503.82" stroke="#111" stroke-width="1.55" />
<line x1="339.97" y1="508.42" x2="348.97" y2="508.42" stroke="#111" stroke-width="1.55" />
<line x1="349.01" y1="499.78" x2="349.01" y2="503.40" stroke="#111" stroke-width="1.55" />
<line x1="344.51" y1="499.78" x2="353.51" y2="499.78" stroke="#111" stroke-width="1.55" />
<line x1="344.51" y1="503.40" x2="353.51" y2="503.40" stroke="#111" stroke-width="1.55" />
<line x1="353.56" y1="494.65" x2="353.56" y2="497.74" stroke="#111" stroke-width="1.55" />
<line x1="349.06" y1="494.65" x2="358.06" y2="494.65" stroke="#111" stroke-width="1.55" />
<line x1="349.06" y1="497.74" x2="358.06" y2="497.74" stroke="#111" stroke-width="1.55" />
<line x1="358.11" y1="487.90" x2="358.11" y2="493.13" stroke="#111" stroke-width="1.55" />
<line x1="353.61" y1="487.90" x2="362.61" y2="487.90" stroke="#111" stroke-width="1.55" />
<line x1="353.61" y1="493.13" x2="362.61" y2="493.13" stroke="#111" stroke-width="1.55" />
<line x1="362.65" y1="483.61" x2="362.65" y2="488.37" stroke="#111" stroke-width="1.55" />
<line x1="358.15" y1="483.61" x2="367.15" y2="483.61" stroke="#111" stroke-width="1.55" />
<line x1="358.15" y1="488.37" x2="367.15" y2="488.37" stroke="#111" stroke-width="1.55" />
<line x1="367.19" y1="479.61" x2="367.19" y2="483.33" stroke="#111" stroke-width="1.55" />
<line x1="362.69" y1="479.61" x2="371.69" y2="479.61" stroke="#111" stroke-width="1.55" />
<line x1="362.69" y1="483.33" x2="371.69" y2="483.33" stroke="#111" stroke-width="1.55" />
<line x1="371.74" y1="474.37" x2="371.74" y2="479.52" stroke="#111" stroke-width="1.55" />
<line x1="367.24" y1="474.37" x2="376.24" y2="474.37" stroke="#111" stroke-width="1.55" />
<line x1="367.24" y1="479.52" x2="376.24" y2="479.52" stroke="#111" stroke-width="1.55" />
<line x1="376.29" y1="469.19" x2="376.29" y2="475.44" stroke="#111" stroke-width="1.55" />
<line x1="371.79" y1="469.19" x2="380.79" y2="469.19" stroke="#111" stroke-width="1.55" />
<line x1="371.79" y1="475.44" x2="380.79" y2="475.44" stroke="#111" stroke-width="1.55" />
<line x1="380.83" y1="465.40" x2="380.83" y2="469.61" stroke="#111" stroke-width="1.55" />
<line x1="376.33" y1="465.40" x2="385.33" y2="465.40" stroke="#111" stroke-width="1.55" />
<line x1="376.33" y1="469.61" x2="385.33" y2="469.61" stroke="#111" stroke-width="1.55" />
<line x1="385.38" y1="459.59" x2="385.38" y2="465.88" stroke="#111" stroke-width="1.55" />
<line x1="380.88" y1="459.59" x2="389.88" y2="459.59" stroke="#111" stroke-width="1.55" />
<line x1="380.88" y1="465.88" x2="389.88" y2="465.88" stroke="#111" stroke-width="1.55" />
<line x1="389.92" y1="454.96" x2="389.92" y2="460.98" stroke="#111" stroke-width="1.55" />
<line x1="385.42" y1="454.96" x2="394.42" y2="454.96" stroke="#111" stroke-width="1.55" />
<line x1="385.42" y1="460.98" x2="394.42" y2="460.98" stroke="#111" stroke-width="1.55" />
<line x1="394.47" y1="450.65" x2="394.47" y2="455.36" stroke="#111" stroke-width="1.55" />
<line x1="389.97" y1="450.65" x2="398.97" y2="450.65" stroke="#111" stroke-width="1.55" />
<line x1="389.97" y1="455.36" x2="398.97" y2="455.36" stroke="#111" stroke-width="1.55" />
<line x1="399.01" y1="445.52" x2="399.01" y2="450.25" stroke="#111" stroke-width="1.55" />
<line x1="394.51" y1="445.52" x2="403.51" y2="445.52" stroke="#111" stroke-width="1.55" />
<line x1="394.51" y1="450.25" x2="403.51" y2="450.25" stroke="#111" stroke-width="1.55" />
<line x1="403.56" y1="439.02" x2="403.56" y2="446.52" stroke="#111" stroke-width="1.55" />
<line x1="399.06" y1="439.02" x2="408.06" y2="439.02" stroke="#111" stroke-width="1.55" />
<line x1="399.06" y1="446.52" x2="408.06" y2="446.52" stroke="#111" stroke-width="1.55" />
<line x1="408.10" y1="436.05" x2="408.10" y2="441.62" stroke="#111" stroke-width="1.55" />
<line x1="403.60" y1="436.05" x2="412.60" y2="436.05" stroke="#111" stroke-width="1.55" />
<line x1="403.60" y1="441.62" x2="412.60" y2="441.62" stroke="#111" stroke-width="1.55" />
<line x1="412.64" y1="432.90" x2="412.64" y2="439.01" stroke="#111" stroke-width="1.55" />
<line x1="408.14" y1="432.90" x2="417.14" y2="432.90" stroke="#111" stroke-width="1.55" />
<line x1="408.14" y1="439.01" x2="417.14" y2="439.01" stroke="#111" stroke-width="1.55" />
<line x1="417.19" y1="429.53" x2="417.19" y2="436.61" stroke="#111" stroke-width="1.55" />
<line x1="412.69" y1="429.53" x2="421.69" y2="429.53" stroke="#111" stroke-width="1.55" />
<line x1="412.69" y1="436.61" x2="421.69" y2="436.61" stroke="#111" stroke-width="1.55" />
<line x1="421.74" y1="424.78" x2="421.74" y2="431.22" stroke="#111" stroke-width="1.55" />
<line x1="417.24" y1="424.78" x2="426.24" y2="424.78" stroke="#111" stroke-width="1.55" />
<line x1="417.24" y1="431.22" x2="426.24" y2="431.22" stroke="#111" stroke-width="1.55" />
<line x1="426.28" y1="420.06" x2="426.28" y2="424.96" stroke="#111" stroke-width="1.55" />
<line x1="421.78" y1="420.06" x2="430.78" y2="420.06" stroke="#111" stroke-width="1.55" />
<line x1="421.78" y1="424.96" x2="430.78" y2="424.96" stroke="#111" stroke-width="1.55" />
<line x1="430.83" y1="415.23" x2="430.83" y2="421.31" stroke="#111" stroke-width="1.55" />
<line x1="426.33" y1="415.23" x2="435.33" y2="415.23" stroke="#111" stroke-width="1.55" />
<line x1="426.33" y1="421.31" x2="435.33" y2="421.31" stroke="#111" stroke-width="1.55" />
<line x1="435.37" y1="410.54" x2="435.37" y2="417.64" stroke="#111" stroke-width="1.55" />
<line x1="430.87" y1="410.54" x2="439.87" y2="410.54" stroke="#111" stroke-width="1.55" />
<line x1="430.87" y1="417.64" x2="439.87" y2="417.64" stroke="#111" stroke-width="1.55" />
<line x1="439.92" y1="404.80" x2="439.92" y2="413.30" stroke="#111" stroke-width="1.55" />
<line x1="435.42" y1="404.80" x2="444.42" y2="404.80" stroke="#111" stroke-width="1.55" />
<line x1="435.42" y1="413.30" x2="444.42" y2="413.30" stroke="#111" stroke-width="1.55" />
<line x1="444.46" y1="399.54" x2="444.46" y2="407.58" stroke="#111" stroke-width="1.55" />
<line x1="439.96" y1="399.54" x2="448.96" y2="399.54" stroke="#111" stroke-width="1.55" />
<line x1="439.96" y1="407.58" x2="448.96" y2="407.58" stroke="#111" stroke-width="1.55" />
<line x1="449.00" y1="394.34" x2="449.00" y2="401.80" stroke="#111" stroke-width="1.55" />
<line x1="444.50" y1="394.34" x2="453.50" y2="394.34" stroke="#111" stroke-width="1.55" />
<line x1="444.50" y1="401.80" x2="453.50" y2="401.80" stroke="#111" stroke-width="1.55" />
<line x1="453.55" y1="389.31" x2="453.55" y2="395.85" stroke="#111" stroke-width="1.55" />
<line x1="449.05" y1="389.31" x2="458.05" y2="389.31" stroke="#111" stroke-width="1.55" />
<line x1="449.05" y1="395.85" x2="458.05" y2="395.85" stroke="#111" stroke-width="1.55" />
<line x1="458.10" y1="382.37" x2="458.10" y2="391.81" stroke="#111" stroke-width="1.55" />
<line x1="453.60" y1="382.37" x2="462.60" y2="382.37" stroke="#111" stroke-width="1.55" />
<line x1="453.60" y1="391.81" x2="462.60" y2="391.81" stroke="#111" stroke-width="1.55" />
<line x1="462.64" y1="378.67" x2="462.64" y2="385.49" stroke="#111" stroke-width="1.55" />
<line x1="458.14" y1="378.67" x2="467.14" y2="378.67" stroke="#111" stroke-width="1.55" />
<line x1="458.14" y1="385.49" x2="467.14" y2="385.49" stroke="#111" stroke-width="1.55" />
<line x1="467.19" y1="372.52" x2="467.19" y2="382.09" stroke="#111" stroke-width="1.55" />
<line x1="462.69" y1="372.52" x2="471.69" y2="372.52" stroke="#111" stroke-width="1.55" />
<line x1="462.69" y1="382.09" x2="471.69" y2="382.09" stroke="#111" stroke-width="1.55" />
<line x1="471.73" y1="368.21" x2="471.73" y2="376.86" stroke="#111" stroke-width="1.55" />
<line x1="467.23" y1="368.21" x2="476.23" y2="368.21" stroke="#111" stroke-width="1.55" />
<line x1="467.23" y1="376.86" x2="476.23" y2="376.86" stroke="#111" stroke-width="1.55" />
<line x1="476.27" y1="363.20" x2="476.27" y2="372.31" stroke="#111" stroke-width="1.55" />
<line x1="471.77" y1="363.20" x2="480.77" y2="363.20" stroke="#111" stroke-width="1.55" />
<line x1="471.77" y1="372.31" x2="480.77" y2="372.31" stroke="#111" stroke-width="1.55" />
<line x1="480.82" y1="359.01" x2="480.82" y2="367.44" stroke="#111" stroke-width="1.55" />
<line x1="476.32" y1="359.01" x2="485.32" y2="359.01" stroke="#111" stroke-width="1.55" />
<line x1="476.32" y1="367.44" x2="485.32" y2="367.44" stroke="#111" stroke-width="1.55" />
<line x1="485.37" y1="354.88" x2="485.37" y2="362.52" stroke="#111" stroke-width="1.55" />
<line x1="480.87" y1="354.88" x2="489.87" y2="354.88" stroke="#111" stroke-width="1.55" />
<line x1="480.87" y1="362.52" x2="489.87" y2="362.52" stroke="#111" stroke-width="1.55" />
<line x1="489.91" y1="350.36" x2="489.91" y2="357.98" stroke="#111" stroke-width="1.55" />
<line x1="485.41" y1="350.36" x2="494.41" y2="350.36" stroke="#111" stroke-width="1.55" />
<line x1="485.41" y1="357.98" x2="494.41" y2="357.98" stroke="#111" stroke-width="1.55" />
<line x1="496.73" y1="342.20" x2="496.73" y2="352.64" stroke="#111" stroke-width="1.55" />
<line x1="492.23" y1="342.20" x2="501.23" y2="342.20" stroke="#111" stroke-width="1.55" />
<line x1="492.23" y1="352.64" x2="501.23" y2="352.64" stroke="#111" stroke-width="1.55" />
<polyline points="319.25,531.90 321.75,531.30 326.29,528.53 330.83,523.63 335.38,518.61 339.93,513.07 344.47,506.12 349.01,501.59 353.56,496.19 358.11,490.51 362.65,485.99 367.19,481.47 371.74,476.95 376.29,472.31 380.83,467.51 385.38,462.74 389.92,457.97 394.47,453.01 399.01,447.89 403.56,442.77 408.10,438.84 412.64,435.95 417.19,433.07 421.74,428.00 426.28,422.51 430.83,418.27 435.37,414.09 439.92,409.05 444.46,403.56 449.00,398.07 453.55,392.58 458.10,387.09 462.64,382.08 467.19,377.31 471.73,372.53 476.27,367.76 480.82,363.23 485.37,358.70 489.91,354.17 496.73,347.42" fill="none" stroke="#e6871e" stroke-width="3.8" stroke-linejoin="round" stroke-linecap="round" />
<rect x="326.1" y="366.7" width="72.59999999999997" height="44.5" fill="#fff" stroke="#9a9a9a" stroke-width="1.1"/>
<line x1="331.80" y1="381.00" x2="349.80" y2="381.00" stroke="#e6871e" stroke-width="2.0" />
<line x1="331.80" y1="400.90" x2="349.80" y2="400.90" stroke="#1a2e6a" stroke-width="2.0" />
<text x="356.80" y="385.70" font-size="13.2" text-anchor="start" font-weight="normal" fill="#111" >+ Rap</text>
<text x="356.80" y="404.80" font-size="13.2" text-anchor="start" font-weight="normal" fill="#111" >– Rap</text>
<line x1="582.50" y1="329.70" x2="582.50" y2="533.00" stroke="#000" stroke-width="2" />
<line x1="582.50" y1="532.20" x2="587.00" y2="532.20" stroke="#000" stroke-width="1.8" />
<text transform="translate(566.40,538.30) scale(0.97,1)" font-size="14.8" text-anchor="end" fill="#111">0</text>
<line x1="582.50" y1="509.80" x2="587.00" y2="509.80" stroke="#000" stroke-width="1.8" />
<text transform="translate(566.40,515.90) scale(0.97,1)" font-size="14.8" text-anchor="end" fill="#111">0.2</text>
<line x1="582.50" y1="487.40" x2="587.00" y2="487.40" stroke="#000" stroke-width="1.8" />
<text transform="translate(566.40,493.50) scale(0.97,1)" font-size="14.8" text-anchor="end" fill="#111">0.4</text>
<line x1="582.50" y1="465.00" x2="587.00" y2="465.00" stroke="#000" stroke-width="1.8" />
<text transform="translate(566.40,471.10) scale(0.97,1)" font-size="14.8" text-anchor="end" fill="#111">0.6</text>
<line x1="582.50" y1="442.60" x2="587.00" y2="442.60" stroke="#000" stroke-width="1.8" />
<text transform="translate(566.40,448.70) scale(0.97,1)" font-size="14.8" text-anchor="end" fill="#111">0.8</text>
<line x1="582.50" y1="420.20" x2="587.00" y2="420.20" stroke="#000" stroke-width="1.8" />
<text transform="translate(566.40,426.30) scale(0.97,1)" font-size="14.8" text-anchor="end" fill="#111">1</text>
<line x1="582.50" y1="397.80" x2="587.00" y2="397.80" stroke="#000" stroke-width="1.8" />
<text transform="translate(566.40,403.90) scale(0.97,1)" font-size="14.8" text-anchor="end" fill="#111">1.2</text>
<line x1="582.50" y1="375.40" x2="587.00" y2="375.40" stroke="#000" stroke-width="1.8" />
<text transform="translate(566.40,381.50) scale(0.97,1)" font-size="14.8" text-anchor="end" fill="#111">1.4</text>
<line x1="582.50" y1="353.00" x2="587.00" y2="353.00" stroke="#000" stroke-width="1.8" />
<text transform="translate(566.40,359.10) scale(0.97,1)" font-size="14.8" text-anchor="end" fill="#111">1.6</text>
<line x1="582.50" y1="330.60" x2="587.00" y2="330.60" stroke="#000" stroke-width="1.8" />
<text transform="translate(566.40,336.70) scale(0.97,1)" font-size="14.8" text-anchor="end" fill="#111">1.8</text>
<line x1="581.50" y1="532.00" x2="769.40" y2="532.00" stroke="#000" stroke-width="2" />
<line x1="605.50" y1="532.00" x2="605.50" y2="527.00" stroke="#000" stroke-width="1.8" />
<text transform="translate(608.10,557.90) scale(0.97,1)" font-size="14.8" text-anchor="middle" fill="#111">0.5</text>
<line x1="628.80" y1="532.00" x2="628.80" y2="527.00" stroke="#000" stroke-width="1.8" />
<text transform="translate(631.40,557.90) scale(0.97,1)" font-size="14.8" text-anchor="middle" fill="#111">1</text>
<line x1="652.10" y1="532.00" x2="652.10" y2="527.00" stroke="#000" stroke-width="1.8" />
<text transform="translate(654.70,557.90) scale(0.97,1)" font-size="14.8" text-anchor="middle" fill="#111">1.5</text>
<line x1="675.40" y1="532.00" x2="675.40" y2="527.00" stroke="#000" stroke-width="1.8" />
<text transform="translate(678.00,557.90) scale(0.97,1)" font-size="14.8" text-anchor="middle" fill="#111">2</text>
<line x1="698.70" y1="532.00" x2="698.70" y2="527.00" stroke="#000" stroke-width="1.8" />
<text transform="translate(701.30,557.90) scale(0.97,1)" font-size="14.8" text-anchor="middle" fill="#111">2.5</text>
<line x1="722.00" y1="532.00" x2="722.00" y2="527.00" stroke="#000" stroke-width="1.8" />
<text transform="translate(724.60,557.90) scale(0.97,1)" font-size="14.8" text-anchor="middle" fill="#111">3</text>
<line x1="745.30" y1="532.00" x2="745.30" y2="527.00" stroke="#000" stroke-width="1.8" />
<text transform="translate(747.90,557.90) scale(0.97,1)" font-size="14.8" text-anchor="middle" fill="#111">3.5</text>
<line x1="768.60" y1="532.00" x2="768.60" y2="527.00" stroke="#000" stroke-width="1.8" />
<text transform="translate(769.50,557.90) scale(0.97,1)" font-size="14.8" text-anchor="middle" fill="#111">4</text>
<text transform="translate(584.60,557.90) scale(0.97,1)" font-size="14.8" text-anchor="middle" fill="#111">0</text>
<text x="677.00" y="574.40" font-size="14.8" text-anchor="middle" font-weight="normal" fill="#111" >Time (s)</text>
<text transform="translate(533.3,427.0) rotate(-90)" font-size="16.5" text-anchor="middle" fill="#111">cps (10<tspan font-size="10.5" dy="-6">4</tspan><tspan dy="6">/s)</tspan></text>
<text x="593.20" y="349.40" font-size="16" text-anchor="start" font-weight="normal" fill="#111" >100 nM</text>
<line x1="586.86" y1="526.15" x2="586.86" y2="534.23" stroke="#111" stroke-width="1.55" />
<line x1="582.36" y1="526.15" x2="591.36" y2="526.15" stroke="#111" stroke-width="1.55" />
<line x1="582.36" y1="534.23" x2="591.36" y2="534.23" stroke="#111" stroke-width="1.55" />
<line x1="593.86" y1="524.93" x2="593.86" y2="528.41" stroke="#111" stroke-width="1.55" />
<line x1="589.36" y1="524.93" x2="598.36" y2="524.93" stroke="#111" stroke-width="1.55" />
<line x1="589.36" y1="528.41" x2="598.36" y2="528.41" stroke="#111" stroke-width="1.55" />
<line x1="600.86" y1="520.27" x2="600.86" y2="522.78" stroke="#111" stroke-width="1.55" />
<line x1="596.36" y1="520.27" x2="605.36" y2="520.27" stroke="#111" stroke-width="1.55" />
<line x1="596.36" y1="522.78" x2="605.36" y2="522.78" stroke="#111" stroke-width="1.55" />
<line x1="607.86" y1="512.59" x2="607.86" y2="515.51" stroke="#111" stroke-width="1.55" />
<line x1="603.36" y1="512.59" x2="612.36" y2="512.59" stroke="#111" stroke-width="1.55" />
<line x1="603.36" y1="515.51" x2="612.36" y2="515.51" stroke="#111" stroke-width="1.55" />
<line x1="614.86" y1="505.79" x2="614.86" y2="512.40" stroke="#111" stroke-width="1.55" />
<line x1="610.36" y1="505.79" x2="619.36" y2="505.79" stroke="#111" stroke-width="1.55" />
<line x1="610.36" y1="512.40" x2="619.36" y2="512.40" stroke="#111" stroke-width="1.55" />
<line x1="621.86" y1="498.57" x2="621.86" y2="502.98" stroke="#111" stroke-width="1.55" />
<line x1="617.36" y1="498.57" x2="626.36" y2="498.57" stroke="#111" stroke-width="1.55" />
<line x1="617.36" y1="502.98" x2="626.36" y2="502.98" stroke="#111" stroke-width="1.55" />
<line x1="628.86" y1="491.49" x2="628.86" y2="497.45" stroke="#111" stroke-width="1.55" />
<line x1="624.36" y1="491.49" x2="633.36" y2="491.49" stroke="#111" stroke-width="1.55" />
<line x1="624.36" y1="497.45" x2="633.36" y2="497.45" stroke="#111" stroke-width="1.55" />
<line x1="635.86" y1="483.73" x2="635.86" y2="489.67" stroke="#111" stroke-width="1.55" />
<line x1="631.36" y1="483.73" x2="640.36" y2="483.73" stroke="#111" stroke-width="1.55" />
<line x1="631.36" y1="489.67" x2="640.36" y2="489.67" stroke="#111" stroke-width="1.55" />
<line x1="642.86" y1="477.02" x2="642.86" y2="483.97" stroke="#111" stroke-width="1.55" />
<line x1="638.36" y1="477.02" x2="647.36" y2="477.02" stroke="#111" stroke-width="1.55" />
<line x1="638.36" y1="483.97" x2="647.36" y2="483.97" stroke="#111" stroke-width="1.55" />
<line x1="649.86" y1="470.92" x2="649.86" y2="477.70" stroke="#111" stroke-width="1.55" />
<line x1="645.36" y1="470.92" x2="654.36" y2="470.92" stroke="#111" stroke-width="1.55" />
<line x1="645.36" y1="477.70" x2="654.36" y2="477.70" stroke="#111" stroke-width="1.55" />
<line x1="656.86" y1="462.32" x2="656.86" y2="467.70" stroke="#111" stroke-width="1.55" />
<line x1="652.36" y1="462.32" x2="661.36" y2="462.32" stroke="#111" stroke-width="1.55" />
<line x1="652.36" y1="467.70" x2="661.36" y2="467.70" stroke="#111" stroke-width="1.55" />
<line x1="663.86" y1="454.82" x2="663.86" y2="462.73" stroke="#111" stroke-width="1.55" />
<line x1="659.36" y1="454.82" x2="668.36" y2="454.82" stroke="#111" stroke-width="1.55" />
<line x1="659.36" y1="462.73" x2="668.36" y2="462.73" stroke="#111" stroke-width="1.55" />
<line x1="670.86" y1="451.25" x2="670.86" y2="458.94" stroke="#111" stroke-width="1.55" />
<line x1="666.36" y1="451.25" x2="675.36" y2="451.25" stroke="#111" stroke-width="1.55" />
<line x1="666.36" y1="458.94" x2="675.36" y2="458.94" stroke="#111" stroke-width="1.55" />
<line x1="677.86" y1="442.68" x2="677.86" y2="449.76" stroke="#111" stroke-width="1.55" />
<line x1="673.36" y1="442.68" x2="682.36" y2="442.68" stroke="#111" stroke-width="1.55" />
<line x1="673.36" y1="449.76" x2="682.36" y2="449.76" stroke="#111" stroke-width="1.55" />
<line x1="684.86" y1="433.40" x2="684.86" y2="441.02" stroke="#111" stroke-width="1.55" />
<line x1="680.36" y1="433.40" x2="689.36" y2="433.40" stroke="#111" stroke-width="1.55" />
<line x1="680.36" y1="441.02" x2="689.36" y2="441.02" stroke="#111" stroke-width="1.55" />
<line x1="691.86" y1="427.58" x2="691.86" y2="435.65" stroke="#111" stroke-width="1.55" />
<line x1="687.36" y1="427.58" x2="696.36" y2="427.58" stroke="#111" stroke-width="1.55" />
<line x1="687.36" y1="435.65" x2="696.36" y2="435.65" stroke="#111" stroke-width="1.55" />
<line x1="698.86" y1="419.76" x2="698.86" y2="431.19" stroke="#111" stroke-width="1.55" />
<line x1="694.36" y1="419.76" x2="703.36" y2="419.76" stroke="#111" stroke-width="1.55" />
<line x1="694.36" y1="431.19" x2="703.36" y2="431.19" stroke="#111" stroke-width="1.55" />
<line x1="705.86" y1="413.08" x2="705.86" y2="422.36" stroke="#111" stroke-width="1.55" />
<line x1="701.36" y1="413.08" x2="710.36" y2="413.08" stroke="#111" stroke-width="1.55" />
<line x1="701.36" y1="422.36" x2="710.36" y2="422.36" stroke="#111" stroke-width="1.55" />
<line x1="712.86" y1="404.87" x2="712.86" y2="417.84" stroke="#111" stroke-width="1.55" />
<line x1="708.36" y1="404.87" x2="717.36" y2="404.87" stroke="#111" stroke-width="1.55" />
<line x1="708.36" y1="417.84" x2="717.36" y2="417.84" stroke="#111" stroke-width="1.55" />
<line x1="719.86" y1="398.95" x2="719.86" y2="413.01" stroke="#111" stroke-width="1.55" />
<line x1="715.36" y1="398.95" x2="724.36" y2="398.95" stroke="#111" stroke-width="1.55" />
<line x1="715.36" y1="413.01" x2="724.36" y2="413.01" stroke="#111" stroke-width="1.55" />
<line x1="726.86" y1="393.74" x2="726.86" y2="406.79" stroke="#111" stroke-width="1.55" />
<line x1="722.36" y1="393.74" x2="731.36" y2="393.74" stroke="#111" stroke-width="1.55" />
<line x1="722.36" y1="406.79" x2="731.36" y2="406.79" stroke="#111" stroke-width="1.55" />
<line x1="733.86" y1="387.12" x2="733.86" y2="399.06" stroke="#111" stroke-width="1.55" />
<line x1="729.36" y1="387.12" x2="738.36" y2="387.12" stroke="#111" stroke-width="1.55" />
<line x1="729.36" y1="399.06" x2="738.36" y2="399.06" stroke="#111" stroke-width="1.55" />
<line x1="740.86" y1="377.16" x2="740.86" y2="391.04" stroke="#111" stroke-width="1.55" />
<line x1="736.36" y1="377.16" x2="745.36" y2="377.16" stroke="#111" stroke-width="1.55" />
<line x1="736.36" y1="391.04" x2="745.36" y2="391.04" stroke="#111" stroke-width="1.55" />
<line x1="747.86" y1="369.96" x2="747.86" y2="387.78" stroke="#111" stroke-width="1.55" />
<line x1="743.36" y1="369.96" x2="752.36" y2="369.96" stroke="#111" stroke-width="1.55" />
<line x1="743.36" y1="387.78" x2="752.36" y2="387.78" stroke="#111" stroke-width="1.55" />
<line x1="754.86" y1="355.63" x2="754.86" y2="371.19" stroke="#111" stroke-width="1.55" />
<line x1="750.36" y1="355.63" x2="759.36" y2="355.63" stroke="#111" stroke-width="1.55" />
<line x1="750.36" y1="371.19" x2="759.36" y2="371.19" stroke="#111" stroke-width="1.55" />
<line x1="766.60" y1="348.38" x2="766.60" y2="366.22" stroke="#111" stroke-width="1.55" />
<line x1="762.10" y1="348.38" x2="771.10" y2="348.38" stroke="#111" stroke-width="1.55" />
<line x1="762.10" y1="366.22" x2="771.10" y2="366.22" stroke="#111" stroke-width="1.55" />
<polyline points="584.30,531.10 591.30,528.60 598.20,523.40 604.30,519.10 608.60,513.00 615.50,508.70 622.40,500.10 629.40,494.00 636.30,486.20 643.20,480.20 650.10,474.10 655.30,466.30 660.50,462.00 663.80,458.80 669.90,456.20 675.90,449.30 682.00,439.70 688.90,433.70 695.00,429.40 701.00,423.30 704.50,418.10 710.60,416.40 714.90,406.80 717.70,404.90 722.90,407.50 728.10,398.00 734.20,392.80 740.20,384.10 744.60,384.10 748.90,377.20 753.50,364.50 758.50,360.50 763.00,357.80 766.60,357.30" fill="none" stroke="#173c88" stroke-width="3.7" stroke-linejoin="round" stroke-linecap="round" />
<line x1="586.86" y1="526.10" x2="586.86" y2="528.14" stroke="#111" stroke-width="1.55" />
<line x1="582.36" y1="526.10" x2="591.36" y2="526.10" stroke="#111" stroke-width="1.55" />
<line x1="582.36" y1="528.14" x2="591.36" y2="528.14" stroke="#111" stroke-width="1.55" />
<line x1="593.86" y1="521.64" x2="593.86" y2="524.54" stroke="#111" stroke-width="1.55" />
<line x1="589.36" y1="521.64" x2="598.36" y2="521.64" stroke="#111" stroke-width="1.55" />
<line x1="589.36" y1="524.54" x2="598.36" y2="524.54" stroke="#111" stroke-width="1.55" />
<line x1="600.86" y1="516.48" x2="600.86" y2="519.53" stroke="#111" stroke-width="1.55" />
<line x1="596.36" y1="516.48" x2="605.36" y2="516.48" stroke="#111" stroke-width="1.55" />
<line x1="596.36" y1="519.53" x2="605.36" y2="519.53" stroke="#111" stroke-width="1.55" />
<line x1="607.86" y1="507.66" x2="607.86" y2="512.44" stroke="#111" stroke-width="1.55" />
<line x1="603.36" y1="507.66" x2="612.36" y2="507.66" stroke="#111" stroke-width="1.55" />
<line x1="603.36" y1="512.44" x2="612.36" y2="512.44" stroke="#111" stroke-width="1.55" />
<line x1="614.86" y1="503.26" x2="614.86" y2="507.29" stroke="#111" stroke-width="1.55" />
<line x1="610.36" y1="503.26" x2="619.36" y2="503.26" stroke="#111" stroke-width="1.55" />
<line x1="610.36" y1="507.29" x2="619.36" y2="507.29" stroke="#111" stroke-width="1.55" />
<line x1="621.86" y1="494.02" x2="621.86" y2="499.66" stroke="#111" stroke-width="1.55" />
<line x1="617.36" y1="494.02" x2="626.36" y2="494.02" stroke="#111" stroke-width="1.55" />
<line x1="617.36" y1="499.66" x2="626.36" y2="499.66" stroke="#111" stroke-width="1.55" />
<line x1="628.86" y1="488.66" x2="628.86" y2="492.42" stroke="#111" stroke-width="1.55" />
<line x1="624.36" y1="488.66" x2="633.36" y2="488.66" stroke="#111" stroke-width="1.55" />
<line x1="624.36" y1="492.42" x2="633.36" y2="492.42" stroke="#111" stroke-width="1.55" />
<line x1="635.86" y1="479.24" x2="635.86" y2="486.46" stroke="#111" stroke-width="1.55" />
<line x1="631.36" y1="479.24" x2="640.36" y2="479.24" stroke="#111" stroke-width="1.55" />
<line x1="631.36" y1="486.46" x2="640.36" y2="486.46" stroke="#111" stroke-width="1.55" />
<line x1="642.86" y1="473.95" x2="642.86" y2="479.55" stroke="#111" stroke-width="1.55" />
<line x1="638.36" y1="473.95" x2="647.36" y2="473.95" stroke="#111" stroke-width="1.55" />
<line x1="638.36" y1="479.55" x2="647.36" y2="479.55" stroke="#111" stroke-width="1.55" />
<line x1="649.86" y1="466.74" x2="649.86" y2="473.08" stroke="#111" stroke-width="1.55" />
<line x1="645.36" y1="466.74" x2="654.36" y2="466.74" stroke="#111" stroke-width="1.55" />
<line x1="645.36" y1="473.08" x2="654.36" y2="473.08" stroke="#111" stroke-width="1.55" />
<line x1="656.86" y1="458.09" x2="656.86" y2="464.58" stroke="#111" stroke-width="1.55" />
<line x1="652.36" y1="458.09" x2="661.36" y2="458.09" stroke="#111" stroke-width="1.55" />
<line x1="652.36" y1="464.58" x2="661.36" y2="464.58" stroke="#111" stroke-width="1.55" />
<line x1="663.86" y1="452.30" x2="663.86" y2="458.94" stroke="#111" stroke-width="1.55" />
<line x1="659.36" y1="452.30" x2="668.36" y2="452.30" stroke="#111" stroke-width="1.55" />
<line x1="659.36" y1="458.94" x2="668.36" y2="458.94" stroke="#111" stroke-width="1.55" />
<line x1="670.86" y1="447.73" x2="670.86" y2="454.27" stroke="#111" stroke-width="1.55" />
<line x1="666.36" y1="447.73" x2="675.36" y2="447.73" stroke="#111" stroke-width="1.55" />
<line x1="666.36" y1="454.27" x2="675.36" y2="454.27" stroke="#111" stroke-width="1.55" />
<line x1="677.86" y1="437.05" x2="677.86" y2="446.09" stroke="#111" stroke-width="1.55" />
<line x1="673.36" y1="437.05" x2="682.36" y2="437.05" stroke="#111" stroke-width="1.55" />
<line x1="673.36" y1="446.09" x2="682.36" y2="446.09" stroke="#111" stroke-width="1.55" />
<line x1="684.86" y1="429.77" x2="684.86" y2="437.19" stroke="#111" stroke-width="1.55" />
<line x1="680.36" y1="429.77" x2="689.36" y2="429.77" stroke="#111" stroke-width="1.55" />
<line x1="680.36" y1="437.19" x2="689.36" y2="437.19" stroke="#111" stroke-width="1.55" />
<line x1="691.86" y1="423.30" x2="691.86" y2="432.89" stroke="#111" stroke-width="1.55" />
<line x1="687.36" y1="423.30" x2="696.36" y2="423.30" stroke="#111" stroke-width="1.55" />
<line x1="687.36" y1="432.89" x2="696.36" y2="432.89" stroke="#111" stroke-width="1.55" />
<line x1="698.86" y1="415.69" x2="698.86" y2="427.41" stroke="#111" stroke-width="1.55" />
<line x1="694.36" y1="415.69" x2="703.36" y2="415.69" stroke="#111" stroke-width="1.55" />
<line x1="694.36" y1="427.41" x2="703.36" y2="427.41" stroke="#111" stroke-width="1.55" />
<line x1="705.86" y1="409.66" x2="705.86" y2="419.85" stroke="#111" stroke-width="1.55" />
<line x1="701.36" y1="409.66" x2="710.36" y2="409.66" stroke="#111" stroke-width="1.55" />
<line x1="701.36" y1="419.85" x2="710.36" y2="419.85" stroke="#111" stroke-width="1.55" />
<line x1="712.86" y1="398.72" x2="712.86" y2="412.99" stroke="#111" stroke-width="1.55" />
<line x1="708.36" y1="398.72" x2="717.36" y2="398.72" stroke="#111" stroke-width="1.55" />
<line x1="708.36" y1="412.99" x2="717.36" y2="412.99" stroke="#111" stroke-width="1.55" />
<line x1="719.86" y1="397.31" x2="719.86" y2="410.75" stroke="#111" stroke-width="1.55" />
<line x1="715.36" y1="397.31" x2="724.36" y2="397.31" stroke="#111" stroke-width="1.55" />
<line x1="715.36" y1="410.75" x2="724.36" y2="410.75" stroke="#111" stroke-width="1.55" />
<line x1="726.86" y1="387.65" x2="726.86" y2="403.05" stroke="#111" stroke-width="1.55" />
<line x1="722.36" y1="387.65" x2="731.36" y2="387.65" stroke="#111" stroke-width="1.55" />
<line x1="722.36" y1="403.05" x2="731.36" y2="403.05" stroke="#111" stroke-width="1.55" />
<line x1="733.86" y1="382.70" x2="733.86" y2="394.92" stroke="#111" stroke-width="1.55" />
<line x1="729.36" y1="382.70" x2="738.36" y2="382.70" stroke="#111" stroke-width="1.55" />
<line x1="729.36" y1="394.92" x2="738.36" y2="394.92" stroke="#111" stroke-width="1.55" />
<line x1="740.86" y1="373.81" x2="740.86" y2="389.19" stroke="#111" stroke-width="1.55" />
<line x1="736.36" y1="373.81" x2="745.36" y2="373.81" stroke="#111" stroke-width="1.55" />
<line x1="736.36" y1="389.19" x2="745.36" y2="389.19" stroke="#111" stroke-width="1.55" />
<line x1="747.86" y1="367.33" x2="747.86" y2="381.01" stroke="#111" stroke-width="1.55" />
<line x1="743.36" y1="367.33" x2="752.36" y2="367.33" stroke="#111" stroke-width="1.55" />
<line x1="743.36" y1="381.01" x2="752.36" y2="381.01" stroke="#111" stroke-width="1.55" />
<line x1="754.86" y1="357.20" x2="754.86" y2="371.31" stroke="#111" stroke-width="1.55" />
<line x1="750.36" y1="357.20" x2="759.36" y2="357.20" stroke="#111" stroke-width="1.55" />
<line x1="750.36" y1="371.31" x2="759.36" y2="371.31" stroke="#111" stroke-width="1.55" />
<line x1="766.60" y1="354.50" x2="766.60" y2="369.90" stroke="#111" stroke-width="1.55" />
<line x1="762.10" y1="354.50" x2="771.10" y2="354.50" stroke="#111" stroke-width="1.55" />
<line x1="762.10" y1="369.90" x2="771.10" y2="369.90" stroke="#111" stroke-width="1.55" />
<polyline points="583.00,528.50 590.00,526.00 596.90,520.80 603.00,516.50 607.30,510.40 614.20,506.10 621.10,497.50 628.10,491.40 635.00,483.60 641.90,477.60 648.80,471.50 654.00,463.70 659.20,459.40 662.50,456.20 668.60,453.60 674.60,446.70 680.70,437.10 687.60,431.10 693.70,426.80 699.70,420.70 703.20,415.50 709.30,413.80 713.60,404.20 716.40,402.30 721.60,404.90 726.80,395.40 732.90,390.20 738.90,381.50 743.30,381.50 747.60,374.60 752.80,366.00 758.00,361.60 763.20,360.80 766.60,362.20" fill="none" stroke="#e6871e" stroke-width="3.7" stroke-linejoin="round" stroke-linecap="round" />
<rect x="590.0" y="366.7" width="72.10000000000002" height="44.10000000000002" fill="#fff" stroke="#9a9a9a" stroke-width="1.1"/>
<line x1="595.90" y1="380.60" x2="613.70" y2="380.60" stroke="#e6871e" stroke-width="2.0" />
<line x1="595.90" y1="400.40" x2="613.70" y2="400.40" stroke="#1a2e6a" stroke-width="2.0" />
<text x="620.30" y="384.80" font-size="13.2" text-anchor="start" font-weight="normal" fill="#111" >+ Rap</text>
<text x="620.30" y="403.00" font-size="13.2" text-anchor="start" font-weight="normal" fill="#111" >– Rap</text>
</svg></body></html>
